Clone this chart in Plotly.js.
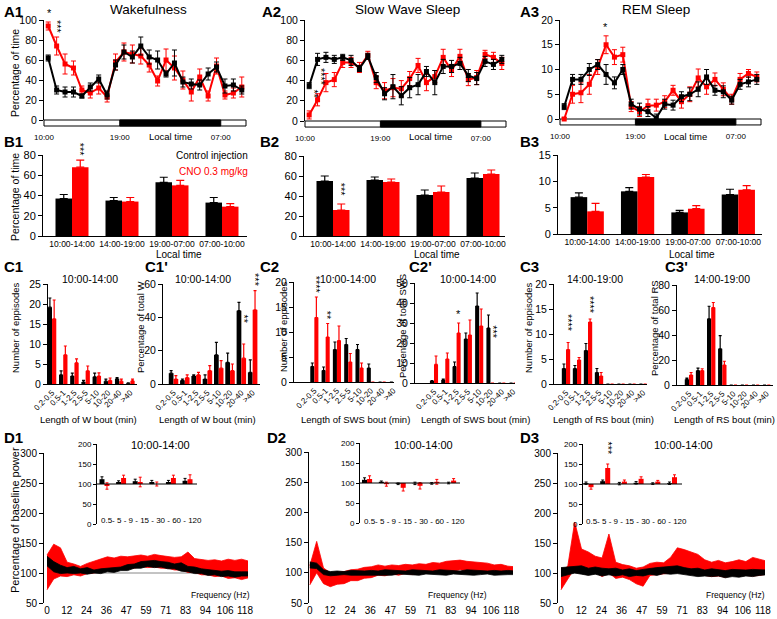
<!DOCTYPE html>
<html>
<head>
<meta charset="utf-8">
<script src="https://cdn.plot.ly/plotly-3.0.1.min.js"></script>
<style>html,body{margin:0;padding:0;background:#fff}</style>
</head>
<body>
<div id="fig" style="width:777px;height:619px"></div>
<script>
/* ── DATA ─────────────────────────────────────── */
// hourly bins, hours after 10:00 (bin centres)
const HOURS = [0.5,1.5,2.5,3.5,4.5,5.5,6.5,7.5,8.5,9.5,10.5,11.5,12.5,13.5,14.5,15.5,16.5,17.5,18.5,19.5,20.5,21.5,22.5,23.5];
const NIGHT = [9, 21];            // 19:00 -> 07:00
const DAY_SPAN = 24;
const TIME_TICKS = [0, 9, 21];
const TIME_LABELS = ['10:00', '19:00', '07:00'];

const A1_CTRL     = [62,30,28,28,24,33,41,25,55,68,63,74,63,60,46,57,38,36,35,46,53,34,35,30];
const A1_CTRL_SEM = [3,4,5,5,2,4,4,4,5,7,6,9,7,9,3,13,5,5,5,6,5,7,6,4];
const A1_CNO      = [94,74,56,52,30,27,32,23,58,68,66,64,55,39,60,52,40,28,43,24,54,25,27,33];
const A1_CNO_SEM  = [4,9,10,7,4,5,6,5,8,9,9,8,7,5,11,12,9,9,8,5,8,4,5,10];

const A2_CTRL     = [35,61,63,61,63,60,52,64,43,27,34,25,33,36,49,38,54,54,57,45,42,59,56,61];
const A2_CTRL_SEM = [3,6,5,4,3,5,3,3,5,6,12,9,10,10,5,12,7,6,6,6,6,5,5,4];
const A2_CNO      = [6,21,38,41,58,58,53,65,38,30,33,32,42,55,38,44,63,50,64,41,43,66,63,57];
const A2_CNO_SEM  = [4,6,9,7,5,5,5,4,6,8,9,8,7,7,8,6,8,6,7,6,7,4,5,6];

const A3_CTRL     = [2.5,8,8,10,11,9,7.3,10,3,2,1.5,0.2,3,2.8,4.5,5,6,8.5,5.8,5.5,3.8,7,7.5,8];
const A3_CTRL_SEM = [0.6,1,1,1.2,1,2,1.2,1,1,1.2,1,0.8,1,1,1,1.3,1.5,1.5,1,1.2,0.8,1,1,1];
const A3_CNO      = [0,5,5.3,7,10.5,15,12.5,13,2.5,1.5,2.7,2.8,3.5,5.8,3.5,5,8.3,6.5,8,6,4,8,9.2,8.5];
const A3_CNO_SEM  = [0.3,1.8,2,2,1.5,1.8,1.5,1.5,1,1,1.3,1.2,1.2,1,1.3,1.5,1.8,1.5,1.3,1.3,1,1.2,0.8,1];

const PERIODS = ['10:00-14:00', '14:00-19:00', '19:00-07:00', '07:00-10:00'];
const B1_CTRL = [37,35,53,33],   B1_CTRL_SEM = [4,3,5,5];
const B1_CNO  = [68,34,50,29],   B1_CNO_SEM  = [7,4,5,3];
const B2_CTRL = [55,56,41,58],   B2_CTRL_SEM = [5,3,5,5];
const B2_CNO  = [26,54,44,62],   B2_CNO_SEM  = [6,3,6,4];
const B3_CTRL = [7,8.1,4.1,7.5], B3_CTRL_SEM = [0.8,0.7,0.4,1];
const B3_CNO  = [4.3,10.8,4.8,8.4], B3_CNO_SEM = [1.5,0.5,0.6,0.8];

const BOUTS = ['0.2-0.5', '0.5-1', '1-2.5', '2.5-5', '5-10', '10-20', '20-40', '>40'];
const C1_CTRL  = [19.2,2.3,2,0.5,1.8,0.7,1.3,0.2], C1_CTRL_SEM  = [2.3,1,0.7,0.4,0.9,0.5,0.3,0.1];
const C1_CNO   = [16.3,7.3,5.3,3.3,2,0.9,0.7,0.8], C1_CNO_SEM   = [4.7,2.2,1,1.2,0.8,0.6,0.5,0.4];
const C1P_CTRL = [6.5,2.2,4.8,3,17.5,13,44,7],     C1P_CTRL_SEM = [1.5,0.8,0.7,2.5,7.5,5.5,5,7.5];
const C1P_CNO  = [3,3.8,5.5,8,9.5,8,15.5,44.5],    C1P_CNO_SEM  = [2,1.7,1.5,3,4.5,4,8.5,11.5];
const C2_CTRL  = [3.1,2.3,6.5,7.5,6.5,2.8,0,0],    C2_CTRL_SEM  = [0.7,0.7,1.5,1.2,1,0.8,0,0];
const C2_CNO   = [12.9,9,8.3,4,2.8,0,0,0],         C2_CNO_SEM   = [4.1,2.7,2.9,1.7,1,0,0,0];
const C2P_CTRL = [1,1.5,8.2,22,38.5,27.5,0,0],     C2P_CTRL_SEM = [0.2,0.5,2.3,3,6.5,6.5,0,0];
const C2P_CNO  = [9.3,12,25,24,28.5,0,0,0],        C2P_CNO_SEM  = [4.2,3,5,7.5,8.5,0,0,0];
const C3_CTRL  = [3.1,3.1,6.7,2.3,0,0,0,0],        C3_CTRL_SEM  = [0.9,0.6,1.4,0.8,0,0,0,0];
const C3_CNO   = [6.9,4.8,12.4,1.6,0,0,0,0],       C3_CNO_SEM   = [1.4,0.5,0.6,0.7,0,0,0,0];
const C3P_CTRL = [4.5,11.5,53,29,0,0,0,0],         C3P_CTRL_SEM = [1,2,10,10.5,0,0,0,0];
const C3P_CNO  = [8,11.5,62,16,0,0,0,0],           C3P_CNO_SEM  = [2,1.5,4,3,0,0,0,0];

// power spectra (% of baseline): upper / lower edge of the noisy trace, 4 Hz steps
const FREQ = [0,4,8,12,16,20,24,28,32,36,40,44,48,52,56,60,64,68,72,76,80,84,88,92,96,100,104,108,112,116,120];
const FREQ_TICKS  = [0,11.8,23.6,35.4,47.2,59,70.8,82.6,94.4,106.2,118];
const FREQ_LABELS = ['0','12','24','36','47','59','71','83','94','106','118'];
const D1_CNO_HI  = [130,148,142,118,115,111,116,120,123,127,125,128,127,129,130,128,131,129,128,126,127,135,124,123,121,122,120,123,121,123,120];
const D1_CNO_LO  = [72,90,95,94,97,95,99,100,103,104,107,106,109,108,111,109,110,108,108,105,105,101,101,97,97,94,95,91,92,89,92];
const D1_CTRL_HI = [128,119,113,109,111,107,109,105,107,108,109,110,114,115,119,120,121,119,118,115,117,111,110,107,106,105,103,104,102,102,102];
const D1_CTRL_LO = [112,102,99,100,99,100,98,100,99,102,101,104,104,108,108,111,109,110,107,107,103,102,99,99,96,97,94,95,93,95,95];
const D2_CNO_HI  = [112,152,108,100,101,102,105,106,109,110,113,111,113,112,114,113,115,114,117,116,119,120,121,119,118,116,116,113,114,111,110];
const D2_CNO_LO  = [80,100,82,77,81,82,87,87,91,92,96,95,98,96,99,97,100,99,102,101,104,103,105,103,104,101,102,99,101,99,100];
const D2_CTRL_HI = [118,116,105,102,103,102,104,103,103,104,103,105,104,104,103,105,104,104,103,105,104,104,103,105,104,104,103,104,103,104,103];
const D2_CTRL_LO = [108,107,97,95,96,97,96,96,97,96,97,97,96,98,97,97,96,98,97,97,96,98,97,97,96,97,98,96,97,97,97];
const D3_CNO_HI  = [100,112,185,140,135,128,125,165,118,114,112,108,110,116,118,117,126,142,139,135,131,122,118,121,117,119,122,119,126,123,120];
const D3_CNO_LO  = [72,90,108,100,97,101,94,100,91,93,89,82,78,96,97,99,100,106,104,105,99,96,94,95,93,96,95,96,95,96,98];
const D3_CTRL_HI = [109,110,111,112,108,110,108,107,108,105,107,104,106,108,109,110,111,112,109,107,108,105,107,106,104,106,105,105,106,105,105];
const D3_CTRL_LO = [94,97,100,98,96,98,95,97,95,97,94,96,95,98,96,99,98,99,97,96,94,95,94,95,92,94,93,95,94,96,97];

// inset: mean power per band (% of baseline)
const BANDS = ['0.5-5', '5-9', '9-15', '15-30', '30-60', '60-120'];
const BAND_TEXT = '0.5- 5 - 9 - 15 - 30 - 60 - 120';
const BASELINE = 100;
const I1_CTRL = [112,105,107,105,105,108], I1_CTRL_SEM = [6,3,5,4,4,6];
const I1_CNO  = [95,115,105,100,115,112],  I1_CNO_SEM  = [8,7,12,5,7,11];
const I2_CTRL = [108,103,98,99,99,100],    I2_CTRL_SEM = [5,2,2,3,2,2];
const I2_CNO  = [110,97,88,93,103,106],    I2_CNO_SEM  = [8,5,8,8,6,5];
const I3_CTRL = [102,107,101,103,101,102], I3_CTRL_SEM = [3,3,3,3,2,3];
const I3_CNO  = [92,140,106,113,106,117],  I3_CNO_SEM  = [5,10,4,5,3,6];

/* ── STYLE ────────────────────────────────────── */
const W = 777, H = 619;
const FONT = 'Arial, "Liberation Sans", Helvetica, sans-serif';
const RED = '#ff0000', BLK = '#000000';

const layout = {
  width: W, height: H, margin: { l: 0, r: 0, t: 0, b: 0 },
  paper_bgcolor: '#fff', plot_bgcolor: 'rgba(0,0,0,0)',
  font: { family: FONT, color: '#000', size: 10 },
  showlegend: false, barmode: 'overlay',
  shapes: [], annotations: []
};
const traces = [];
let nAx = 0;

// one subplot, placed in pixels
function panel(xpx, ypx, xo, yo) {
  nAx++;
  const s = nAx === 1 ? '' : String(nAx);
  layout['xaxis' + s] = Object.assign({
    domain: [xpx[0] / W, xpx[1] / W], anchor: 'y' + s,
    showgrid: false, zeroline: false, fixedrange: true,
    showline: true, linecolor: '#000', linewidth: 1, ticks: ''
  }, xo);
  layout['yaxis' + s] = Object.assign({
    domain: [1 - ypx[1] / H, 1 - ypx[0] / H], anchor: 'x' + s,
    showgrid: false, zeroline: false, fixedrange: true,
    showline: true, linecolor: '#000', linewidth: 1,
    ticks: 'outside', ticklen: 4, tickwidth: 1, tickcolor: '#000'
  }, yo);
  return { x: 'x' + s, y: 'y' + s };
}

function txt(text, xpx, ypx, o) {
  layout.annotations.push(Object.assign({
    text, xref: 'paper', yref: 'paper', x: xpx / W, y: 1 - ypx / H,
    xanchor: 'center', yanchor: 'middle', showarrow: false, font: { size: 10 }
  }, o));
}
const label = (t, x, y) => txt('<b>' + t + '</b>', x, y, { xanchor: 'left', font: { size: 15 } });
const ytitle = (t, x, y, size) => txt(t, x, y, { textangle: -90, font: { size } });

// stars placed on data coordinates
function stars(ax, t, x, y, vertical) {
  layout.annotations.push({
    text: t, xref: ax.x, yref: ax.y, x, y, xanchor: 'center', yanchor: 'bottom',
    textangle: vertical ? 90 : 0, showarrow: false, font: { size: 11 }
  });
}

/* ── A: 24 h time course ──────────────────────── */
function timeCourse(ax, vals, sem, color) {
  traces.push({
    type: 'scatter', mode: 'lines+markers', x: HOURS, y: vals, xaxis: ax.x, yaxis: ax.y,
    line: { color, width: 2 }, marker: { symbol: 'square', size: 5, color },
    error_y: { type: 'data', array: sem, color, thickness: 1, width: 2.5 },
    cliponaxis: false, hoverinfo: 'skip'
  });
}
function dayBar(ax) {
  const base = { type: 'rect', xref: ax.x + ' domain', yref: ax.y + ' domain', y0: -0.06, y1: 0, layer: 'below' };
  layout.shapes.push(Object.assign({}, base, { x0: 0, x1: 1, fillcolor: '#fff', line: { color: '#000', width: 1 } }));
  layout.shapes.push(Object.assign({}, base, { x0: NIGHT[0] / DAY_SPAN, x1: NIGHT[1] / DAY_SPAN, fillcolor: '#000', line: { color: '#000', width: 1 } }));
}
const xTime = {
  range: [0, DAY_SPAN], showline: false, tickvals: TIME_TICKS, ticktext: TIME_LABELS,
  tickfont: { size: 8 }, ticklabelstandoff: 11
};

const a1 = panel([44, 246], [20, 120], xTime, { range: [0, 100], dtick: 20, tickfont: { size: 10.5 } });
const a2 = panel([305, 506], [20, 121], xTime, { range: [0, 100], dtick: 20, tickfont: { size: 10.5 } });
const a3 = panel([560, 761], [20, 119], xTime, { range: [0, 20], dtick: 5, tickfont: { size: 10.5 } });
[[a1, A1_CNO, A1_CNO_SEM, A1_CTRL, A1_CTRL_SEM], [a2, A2_CNO, A2_CNO_SEM, A2_CTRL, A2_CTRL_SEM],
 [a3, A3_CNO, A3_CNO_SEM, A3_CTRL, A3_CTRL_SEM]].forEach(([ax, cno, cnoSem, ctl, ctlSem]) => {
  timeCourse(ax, cno, cnoSem, RED);
  timeCourse(ax, ctl, ctlSem, BLK);
  dayBar(ax);
  layout.annotations.push({ text: 'Local time', xref: ax.x, yref: 'paper', x: 15, y: 1 - 136 / H,
    showarrow: false, font: { size: 9.5 }, yanchor: 'middle' });
});
stars(a1, '*', 0.6, 99);
stars(a1, '***', 1.55, 84, true);
stars(a2, '**', 1.05, 20, true);
stars(a2, '****', 2.0, 33, true);
stars(a3, '*', 5.4, 17);

/* ── B: period bars ───────────────────────────── */
function pairBars(ax, cats, ctl, ctlSem, cno, cnoSem, w, cap) {
  [[ctl, ctlSem, BLK, -w], [cno, cnoSem, RED, 0]].forEach(([v, e, color, off]) => {
    traces.push({
      type: 'bar', x: cats, y: v, xaxis: ax.x, yaxis: ax.y, width: w, offset: off,
      marker: { color, line: { width: 0 } },
      error_y: { type: 'data', symmetric: false, array: e, arrayminus: e.map(() => 0), color, thickness: 1.2, width: cap },
      hoverinfo: 'skip'
    });
  });
}
const xCat = (range, o) => Object.assign({ type: 'category', range, tickangle: 0, tickfont: { size: 8.5 } }, o);

const b1 = panel([43, 247], [155, 236], xCat([-0.58, 3.5]), { range: [0, 80], dtick: 20, tickfont: { size: 11 } });
const b2 = panel([304, 505], [156, 236], xCat([-0.58, 3.44]), { range: [0, 80], dtick: 20, tickfont: { size: 11 } });
const b3 = panel([558, 762], [155, 234], xCat([-0.58, 3.47]), { range: [0, 15], dtick: 5, tickfont: { size: 11 } });
pairBars(b1, PERIODS, B1_CTRL, B1_CTRL_SEM, B1_CNO, B1_CNO_SEM, 0.33, 4);
pairBars(b2, PERIODS, B2_CTRL, B2_CTRL_SEM, B2_CNO, B2_CNO_SEM, 0.33, 4);
pairBars(b3, PERIODS, B3_CTRL, B3_CTRL_SEM, B3_CNO, B3_CNO_SEM, 0.33, 4);
stars(b1, '***', 0.165, 76, true);
stars(b2, '***', 0.165, 37, true);
txt('Local time', 179, 254, { font: { size: 10 } });
txt('Local time', 437, 254, { font: { size: 10 } });
txt('Local time', 692, 254, { font: { size: 10 } });
txt('Control injection', 250, 156, { xanchor: 'right', font: { size: 10, color: BLK } });
txt('CNO 0.3 mg/kg', 250, 171, { xanchor: 'right', font: { size: 10, color: RED } });

/* ── C: bout distributions ────────────────────── */
const xBout = range => xCat(range, { tickangle: -45, tickfont: { size: 8 } });
const yC = (max, dtick) => ({ range: [0, max], dtick, tickfont: { size: 10.5 } });
const c1  = panel([48, 137],  [284, 384], xBout([-0.36, 7.59]), yC(25, 5));
const c1p = panel([163, 260], [284, 384], xBout([-0.93, 7.65]), yC(60, 20));
const c2  = panel([294, 394], [282, 382], xBout([-1.8, 7.05]),  yC(20, 5));
const c2p = panel([415, 515], [283, 383], xBout([-1.68, 7.17]), yC(50, 10));
const c3  = panel([554, 647], [284, 384], xBout([-1.09, 7.36]), yC(20, 5));
const c3p = panel([677, 773], [285, 385], xBout([-1.08, 7.57]), yC(80, 20));
pairBars(c1,  BOUTS, C1_CTRL,  C1_CTRL_SEM,  C1_CNO,  C1_CNO_SEM,  0.38, 1.5);
pairBars(c1p, BOUTS, C1P_CTRL, C1P_CTRL_SEM, C1P_CNO, C1P_CNO_SEM, 0.42, 1.5);
pairBars(c2,  BOUTS, C2_CTRL,  C2_CTRL_SEM,  C2_CNO,  C2_CNO_SEM,  0.36, 1.5);
pairBars(c2p, BOUTS, C2P_CTRL, C2P_CTRL_SEM, C2P_CNO, C2P_CNO_SEM, 0.36, 1.5);
pairBars(c3,  BOUTS, C3_CTRL,  C3_CTRL_SEM,  C3_CNO,  C3_CNO_SEM,  0.38, 1.5);
pairBars(c3p, BOUTS, C3P_CTRL, C3P_CTRL_SEM, C3P_CNO, C3P_CNO_SEM, 0.38, 1.5);
stars(c1p, '**', 6.2, 35, true);
stars(c1p, '***', 7.2, 57, true);
stars(c2, '****', 0.18, 17.2, true);
stars(c2, '**', 1.18, 12, true);
stars(c2p, '*', 2.18, 30.5);
stars(c2p, '***', 5.2, 21, true);
stars(c3, '****', 0.19, 10, true);
stars(c3, '****', 2.19, 13.6, true);
[['10:00-14:00', 90], ['10:00-14:00', 203], ['10:00-14:00', 348], ['10:00-14:00', 468],
 ['14:00-19:00', 595], ['14:00-19:00', 722]].forEach(([t, x]) => txt(t, x, 279, { font: { size: 10.5 } }));
[['Length of W bout (min)', 88], ['Length of W bout (min)', 207], ['Length of SWS bout (min)', 355],
 ['Length of SWS bout (min)', 475], ['Length of RS bout (min)', 603], ['Length of RS bout (min)', 724]]
  .forEach(([t, x]) => txt(t, x, 419, { font: { size: 9.5 } }));

/* ── D: power spectra + band insets ───────────── */
const xFreq = range => ({ range, showline: false, tickvals: FREQ_TICKS, ticktext: FREQ_LABELS, tickfont: { size: 10 } });
const yD = { range: [50, 300], dtick: 50, tickfont: { size: 10 } };
const d1 = panel([44, 248],  [453, 603], xFreq([-1.8, 119.8]), yD);
const d2 = panel([309, 513], [452, 603], xFreq([-0.5, 119]), yD);
const d3 = panel([558, 765], [453, 603], xFreq([-1.75, 119.2]), yD);
function spectrum(ax, lo, hi, color) {
  traces.push({ type: 'scatter', mode: 'lines', x: FREQ, y: lo, xaxis: ax.x, yaxis: ax.y,
    line: { color, width: 0.8 }, hoverinfo: 'skip' });
  traces.push({ type: 'scatter', mode: 'lines', x: FREQ, y: hi, xaxis: ax.x, yaxis: ax.y,
    line: { color, width: 0.8 }, fill: 'tonexty', fillcolor: color, hoverinfo: 'skip' });
}
[[d1, D1_CNO_LO, D1_CNO_HI, D1_CTRL_LO, D1_CTRL_HI], [d2, D2_CNO_LO, D2_CNO_HI, D2_CTRL_LO, D2_CTRL_HI],
 [d3, D3_CNO_LO, D3_CNO_HI, D3_CTRL_LO, D3_CTRL_HI]].forEach(([ax, rLo, rHi, kLo, kHi]) => {
  layout.shapes.push({ type: 'line', xref: ax.x + ' domain', yref: ax.y + ' domain', x0: 0.05, x1: 1,
    y0: (BASELINE - 50) / 250, y1: (BASELINE - 50) / 250, line: { color: '#888', width: 1 }, layer: 'below' });
  spectrum(ax, rLo, rHi, RED);
  spectrum(ax, kLo, kHi, BLK);
});

const xIns = range => ({ type: 'category', range, showline: false, showticklabels: false });
const yIns = { range: [0, 200], dtick: 50, tickfont: { size: 8 }, ticklen: 3 };
const i1 = panel([97, 197],  [444, 524], xIns([-0.45, 5.57]), yIns);
const i2 = panel([360, 460], [443, 523], xIns([-0.42, 5.53]), yIns);
const i3 = panel([583, 682], [444, 524], xIns([-0.33, 5.6]), yIns);
[[i1, I1_CTRL, I1_CTRL_SEM, I1_CNO, I1_CNO_SEM], [i2, I2_CTRL, I2_CTRL_SEM, I2_CNO, I2_CNO_SEM],
 [i3, I3_CTRL, I3_CTRL_SEM, I3_CNO, I3_CNO_SEM]].forEach(([ax, ctl, ctlSem, cno, cnoSem]) => {
  [[ctl, ctlSem, BLK, -0.3], [cno, cnoSem, RED, 0]].forEach(([v, e, color, off]) => {
    traces.push({
      type: 'bar', x: BANDS, y: v.map(p => p - BASELINE), base: BASELINE, xaxis: ax.x, yaxis: ax.y,
      width: 0.3, offset: off, marker: { color, line: { width: 0 } },
      error_y: { type: 'data', array: e, color, thickness: 1, width: 1.5 }, hoverinfo: 'skip'
    });
  });
  layout.shapes.push({ type: 'line', xref: ax.x + ' domain', yref: ax.y + ' domain', x0: 0, x1: 1,
    y0: BASELINE / 200, y1: BASELINE / 200, line: { color: '#000', width: 1.2 } });
});
stars(i3, '***', 1.15, 167, true);
txt(BAND_TEXT, 99, 520, { xanchor: 'left', font: { size: 8 } });
txt(BAND_TEXT, 362, 521, { xanchor: 'left', font: { size: 8 } });
txt(BAND_TEXT, 584, 521, { xanchor: 'left', font: { size: 8 } });
txt('10:00-14:00', 160, 445, { font: { size: 11 } });
txt('10:00-14:00', 423, 445, { font: { size: 11 } });
txt('10:00-14:00', 683, 445, { font: { size: 11 } });
txt('Frequency (Hz)', 220, 595, { font: { size: 8.5 } });
txt('Frequency (Hz)', 457, 595, { font: { size: 8.5 } });
txt('Frequency (Hz)', 735, 595, { font: { size: 8.5 } });

/* ── titles, panel letters, axis titles ───────── */
txt('Wakefulness', 148, 9, { font: { size: 13.5 } });
txt('Slow Wave Sleep', 408, 9, { font: { size: 13.5 } });
txt('REM Sleep', 656, 9, { font: { size: 13.5 } });
[['A1', 2, 12], ['A2', 260, 11], ['A3', 518, 12], ['B1', 2, 142], ['B2', 258, 142], ['B3', 518, 142],
 ['C1', 2, 266], ["C1'", 143, 266], ['C2', 258, 266], ["C2'", 407, 266], ['C3', 518, 266], ["C3'", 663, 266],
 ['D1', 2, 437], ['D2', 265, 437], ['D3', 518, 437]].forEach(([t, x, y]) => label(t, x, y));
ytitle('Percentage of time', 15, 73, 10.5);
ytitle('Percentage of time', 15, 197, 10.5);
ytitle('Number of eppisodes', 15, 328, 9.5);
ytitle('Percentage of total W', 140, 328, 9.5);
ytitle('Number of eppisodes', 283, 327, 9.5);
ytitle('Percentage of total SWS', 402, 326, 9.5);
ytitle('Number of eppisodes', 528, 328, 9.5);
ytitle('Percentage of total RS', 654, 328, 9.5);
ytitle('Percentage of baseline power', 15, 520, 11);

Plotly.newPlot('fig', traces, layout, { displayModeBar: false, staticPlot: true });
</script>
</body>
</html>
